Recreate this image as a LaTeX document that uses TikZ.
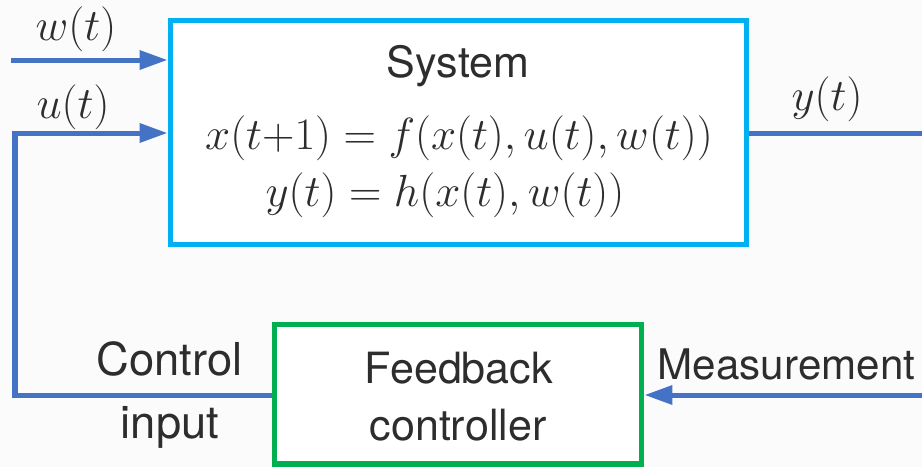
\documentclass[tikz,border=0pt]{standalone}
\usepackage{fontspec}
\setmainfont{TeX Gyre Heros}
\usetikzlibrary{arrows.meta}
\definecolor{lineblue}{RGB}{68,114,196}
\definecolor{sysblue}{RGB}{0,176,240}
\definecolor{ctrlgreen}{RGB}{0,176,80}
\definecolor{txt}{RGB}{45,45,45}
\definecolor{bg}{RGB}{251,251,251}
\newcommand{\bigmath}[1]{\scalebox{1.03}{$#1$}}
\begin{document}
\begin{tikzpicture}[x=0.02cm,y=-0.02cm,
  font=\fontsize{24.5}{29}\selectfont, text=txt,
  conn/.style={draw=lineblue, line width=2.85pt},
  arr/.style={conn, -{Triangle[length=15.9pt,width=10.5pt]}},
  box/.style={draw, line width=2.85pt, fill=white, inner sep=0pt},
  lbl/.style={anchor=base, inner sep=0pt},
  mlbl/.style={lbl, font=\fontsize{24.88}{30}\selectfont},
  biglbl/.style={lbl, font=\fontsize{25.8}{30}\selectfont}]
\fill[bg] (0,0) rectangle (922,467);
\useasboundingbox (0,0) rectangle (922,467);
% boxes
\node[box, draw=sysblue, minimum width=11.54cm, minimum height=4.5cm] (sys) at (458.5,132.5) {};
\node[box, draw=ctrlgreen, minimum width=7.36cm, minimum height=2.8cm] (ctrl) at (458,394) {};
% box texts
\node[lbl] (sysT) at (458,77) {System};
\node[mlbl] (eq1) at (459,149) {\bigmath{x(t{+}1) = f(x(t),u(t),w(t))}};
\node[mlbl] (eq2) at (445,206) {\bigmath{y(t) = h(x(t),w(t))}};
\node[lbl] (fbT) at (459,383) {Feedback};
\node[lbl] (fbT2) at (458,440) {controller};
% coordinates
\coordinate (wIn) at (11,60);
\coordinate (uCorner) at (15,133);
\coordinate (cCorner) at (15,395);
\coordinate (yEnd) at (922,133);
\coordinate (mStart) at (922,395);
% connectors
\draw[arr] (wIn) -- (sys.west |- wIn);
\draw[arr] (ctrl.west |- cCorner) -- (cCorner) -- (uCorner) -- (sys.west |- uCorner);
\draw[conn] (sys.east |- yEnd) -- (yEnd);
\draw[arr] (mStart) -- (ctrl.east |- mStart);
% labels
\node[mlbl] (wL) at (76,40) {\bigmath{w(t)}};
\node[mlbl] (uL) at (73,118) {\bigmath{u(t)}};
\node[mlbl] (yL) at (827,110) {\bigmath{y(t)}};
\node[biglbl] (cL1) at (169.5,375) {Control};
\node[biglbl] (cL2) at (170,438) {input};
\node[lbl, font=\fontsize{24}{29}\selectfont] (mL) at (786.5,379) {Measurement};
\end{tikzpicture}
\end{document}
